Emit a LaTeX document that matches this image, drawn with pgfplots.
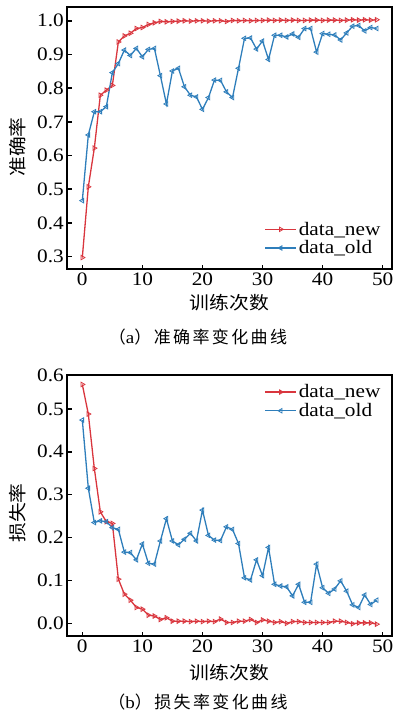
\documentclass[border=0pt]{standalone}
\usepackage{pgfplots}
\pgfplotsset{compat=1.18}
\usepackage{pgfplotstable}
\usepackage{fontspec}
\setmainfont[FakeStretch=1.12]{Liberation Serif}
\newfontfamily\cjk[FakeStretch=1.1]{Noto Sans CJK SC}
\newfontfamily\capcjk[LetterSpace=14]{Noto Sans CJK SC}
\definecolor{cred}{HTML}{D9363E}
\definecolor{cblue}{HTML}{2E7EBB}

\pgfplotstableread{
x accnew accold lossnew lossold
0 0.297 0.466 0.557 0.474
1 0.507 0.661 0.488 0.315
2 0.622 0.730 0.361 0.235
3 0.779 0.730 0.260 0.239
4 0.794 0.745 0.237 0.237
5 0.808 0.846 0.233 0.223
6 0.937 0.873 0.103 0.219
7 0.955 0.913 0.068 0.166
8 0.963 0.897 0.054 0.165
9 0.977 0.918 0.037 0.148
10 0.980 0.893 0.033 0.185
11 0.989 0.915 0.019 0.140
12 0.994 0.918 0.017 0.138
13 0.998 0.837 0.009 0.192
14 0.997 0.753 0.013 0.244
15 0.998 0.851 0.005 0.192
16 0.999 0.859 0.005 0.183
17 1.000 0.804 0.005 0.196
18 0.999 0.779 0.004 0.210
19 1.000 0.774 0.005 0.192
20 1.000 0.737 0.004 0.264
21 0.999 0.772 0.005 0.205
22 1.000 0.824 0.004 0.194
23 1.000 0.823 0.010 0.193
24 0.998 0.789 0.002 0.225
25 1.001 0.772 0.002 0.219
26 1.000 0.859 0.005 0.186
27 1.001 0.948 0.005 0.106
28 1.000 0.949 0.009 0.101
29 1.001 0.916 0.002 0.148
30 1.001 0.940 0.008 0.111
31 1.002 0.885 0.005 0.177
32 1.001 0.957 0.002 0.091
33 1.002 0.957 0.004 0.087
34 1.001 0.952 0.000 0.085
35 1.002 0.961 0.004 0.064
36 1.001 0.951 0.004 0.091
37 1.001 0.977 0.002 0.049
38 1.002 0.977 0.002 0.049
39 1.002 0.907 0.002 0.138
40 1.001 0.962 0.002 0.083
41 1.002 0.960 0.002 0.070
42 1.002 0.958 0.005 0.080
43 1.001 0.943 0.005 0.099
44 1.002 0.964 0.002 0.075
45 1.003 0.984 -0.001 0.043
46 1.002 0.986 0.001 0.037
47 1.003 0.970 0.001 0.066
48 1.002 0.980 0.001 0.044
49 1.003 0.977 -0.002 0.054
}\data

\pgfplotsset{
  myax/.style={
    scale only axis,
    width=324.4pt,
    xmin=-2.5, xmax=51.5,
    xtick={0,10,20,30,40,50},
    axis line style={line width=2.2pt, black},
    tick style={line width=1.6pt, black},
    major tick length=4.5pt,
    tick align=inside,
    xtick pos=bottom, ytick pos=left,
    /pgf/number format/assume math mode=true,
    tick label style={font=\fontsize{19}{19}\selectfont},
    yticklabel style={/pgf/number format/.cd, fixed, fixed zerofill, precision=1},
    clip=false,
    legend cell align=left,
    legend style={draw=none, fill=none, font=\fontsize{19}{19}\selectfont, row sep=0pt, inner sep=1pt},
    legend image code/.code={\draw[mark repeat=2, mark phase=2] plot coordinates {(0pt,0pt) (15.5pt,0pt) (31pt,0pt)};},
  },
  rser/.style={color=cred, line width=1.3pt, mark=triangle, mark size=2.6pt, mark options={rotate=-90, line width=0.8pt, fill=white}},
  bser/.style={color=cblue, line width=1.3pt, mark=triangle, mark size=2.6pt, mark options={rotate=90, line width=0.8pt, fill=white}},
}

\begin{document}
\begin{tikzpicture}
\useasboundingbox (0pt,0pt) rectangle (393pt,-718pt);
\begin{axis}[myax,
  at={(67.3pt,-269pt)}, anchor=south west,
  height=261.7pt,
  ymin=0.263, ymax=1.04,
  ytick={0.3,0.4,0.5,0.6,0.7,0.8,0.9,1.0},
  xlabel={\cjk 训练次数},
  ylabel={\cjk 准确率},
  every axis x label/.style={at={(0.5,-0.13)}, anchor=center, font=\fontsize{18}{18}\selectfont},
  every axis y label/.style={at={(-0.152,0.466)}, anchor=center, rotate=90, font=\fontsize{18}{18}\selectfont},
  legend style={at={(0.975,0.04)}, anchor=south east},
]
\addplot[rser] table[x=x, y=accnew] {\data};
\addlegendentry{data\_new}
\addplot[bser] table[x=x, y=accold] {\data};
\addlegendentry{data\_old}
\end{axis}

\begin{axis}[myax,
  at={(67.3pt,-636pt)}, anchor=south west,
  height=261pt,
  ymin=-0.0296, ymax=0.579,
  ytick={0,0.1,0.2,0.3,0.4,0.5},
  extra y ticks={0.579},
  extra y tick labels={0.6},
  extra y tick style={major tick length=0pt},
  xlabel={\cjk 训练次数},
  ylabel={\cjk 损失率},
  every axis x label/.style={at={(0.5,-0.142)}, anchor=center, font=\fontsize{18}{18}\selectfont},
  every axis y label/.style={at={(-0.152,0.471)}, anchor=center, rotate=90, font=\fontsize{18}{18}\selectfont},
  legend style={at={(0.975,0.975)}, anchor=north east},
]
\addplot[rser] table[x=x, y=lossnew] {\data};
\addlegendentry{data\_new}
\addplot[bser] table[x=x, y=lossold] {\data};
\addlegendentry{data\_old}
\end{axis}

\node[anchor=center, font=\fontsize{17}{17}\selectfont] at (198pt,-337pt) {{\capcjk （}a{\capcjk ）准确率变化曲线}};
\node[anchor=center, font=\fontsize{17}{17}\selectfont] at (198pt,-702pt) {{\capcjk （}b{\capcjk ）损失率变化曲线}};
\end{tikzpicture}
\end{document}
